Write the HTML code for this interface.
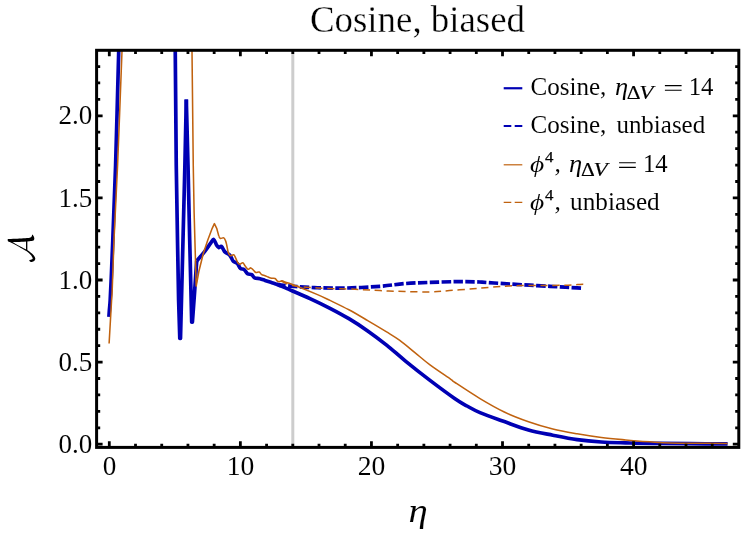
<!DOCTYPE html><html><head><meta charset="utf-8"><style>html,body{margin:0;padding:0;background:#fff}svg{display:block;filter:blur(0.35px)}text{font-family:"Liberation Serif",serif;fill:#000;stroke:#fff;stroke-width:0.06px}</style></head><body>
<svg width="742" height="540" viewBox="0 0 742 540">
<rect width="742" height="540" fill="#fff"/>
<defs><clipPath id="c"><rect x="96.6" y="50.3" width="642.2" height="397.1"/></clipPath></defs>
<line x1="292.80" y1="50.3" x2="292.80" y2="447.4" stroke="#cdcdcd" stroke-width="3"/>
<g clip-path="url(#c)" fill="none" stroke-linejoin="round">
<path d="M108.90,316.90 C108.98,315.75 109.18,312.82 109.40,310.00 C109.62,307.18 109.88,305.50 110.20,300.00 C110.52,294.50 110.87,287.00 111.30,277.00 C111.73,267.00 112.08,258.67 112.80,240.00 C113.52,221.33 114.61,196.67 115.60,165.00 C116.59,133.33 118.13,72.50 118.75,50.00 C119.37,27.50 119.21,33.33 119.30,30.00" stroke="#0000b4" stroke-width="3.7"/>
<path d="M175.20,30.00 L175.25,51.00 L176.25,165.00 L177.50,240.00 L178.60,300.00 L179.80,338.50 L180.50,338.50 L183.00,240.00 L184.90,165.00 L186.30,99.50" stroke="#0000b4" stroke-width="3.7" stroke-linejoin="round"/>
<path d="M186.30,99.50 L188.00,165.00 L189.70,240.00 L191.70,322.20 L192.40,322.20 L194.60,292.00 L196.70,261.00" stroke="#0000b4" stroke-width="3.7" stroke-linejoin="round"/>
<path d="M196.70,261.00 C198.05,259.38 202.47,254.28 204.80,251.30 C207.13,248.32 209.22,245.08 210.70,243.10 C212.18,241.12 212.70,239.03 213.70,239.40 C214.70,239.77 215.83,243.93 216.70,245.30 C217.57,246.67 218.12,247.42 218.90,247.60 C219.68,247.78 220.53,245.87 221.40,246.40 C222.27,246.93 223.50,249.85 224.10,250.80 C224.70,251.75 224.15,251.47 225.00,252.10 C225.85,252.73 228.16,253.70 229.20,254.60 C230.24,255.50 230.57,256.39 231.25,257.50 C231.93,258.61 232.26,260.21 233.30,261.25 C234.34,262.29 236.32,262.57 237.50,263.75 C238.68,264.93 239.28,267.32 240.40,268.30 C241.52,269.28 243.02,268.69 244.20,269.60 C245.38,270.51 246.25,272.92 247.50,273.75 C248.75,274.58 250.52,273.91 251.70,274.60 C252.88,275.29 253.22,277.21 254.60,277.90 C255.98,278.59 258.27,278.33 260.00,278.75 C261.73,279.17 263.33,279.84 265.00,280.40 C266.67,280.96 268.33,281.54 270.00,282.10 C271.67,282.66 273.33,283.15 275.00,283.75 C276.67,284.35 278.17,284.97 280.00,285.70 C281.83,286.43 283.92,287.22 286.00,288.10 C288.08,288.98 288.50,289.25 292.50,291.00 C296.50,292.75 303.75,295.72 310.00,298.60 C316.25,301.48 323.52,304.95 330.00,308.30 C336.48,311.65 342.62,314.93 348.90,318.70 C355.18,322.47 361.42,326.50 367.70,330.90 C373.98,335.30 380.30,340.07 386.60,345.10 C392.90,350.13 398.27,355.22 405.50,361.10 C412.73,366.98 421.75,374.12 430.00,380.40 C438.25,386.67 448.83,394.48 455.00,398.75 C461.17,403.02 462.83,403.69 467.00,406.00 C471.17,408.31 473.78,410.00 480.00,412.60 C486.22,415.20 496.22,418.70 504.30,421.60 C512.38,424.50 520.42,427.73 528.50,430.00 C536.58,432.27 544.70,433.60 552.80,435.20 C560.90,436.80 569.00,438.47 577.10,439.60 C585.20,440.73 593.32,441.45 601.40,442.00 C609.48,442.55 620.17,442.72 625.60,442.90 C631.03,443.07 628.33,442.97 634.00,443.05 C639.67,443.13 650.27,443.29 659.60,443.40 C668.93,443.51 678.67,443.62 690.00,443.70 C701.33,443.77 721.33,443.83 727.60,443.85" stroke="#0000b4" stroke-width="3.7"/>
<path d="M276.40,284.20 C277.00,284.32 277.32,284.56 280.00,284.90 C282.68,285.24 286.25,285.77 292.50,286.25 C298.75,286.73 308.33,287.46 317.50,287.75 C326.67,288.04 337.08,288.24 347.50,288.00 C357.92,287.76 370.42,287.03 380.00,286.30 C389.58,285.57 396.67,284.25 405.00,283.60 C413.33,282.95 421.67,282.72 430.00,282.40 C438.33,282.08 447.50,281.80 455.00,281.70 C462.50,281.60 470.50,281.72 475.00,281.80 C479.50,281.88 478.83,282.00 482.00,282.20 C485.17,282.40 489.33,282.70 494.00,283.00 C498.67,283.30 504.00,283.63 510.00,284.00 C516.00,284.37 523.33,284.82 530.00,285.20 C536.67,285.58 544.17,285.97 550.00,286.30 C555.83,286.63 560.50,286.93 565.00,287.20 C569.50,287.47 574.13,287.73 577.00,287.90 C579.87,288.07 581.33,288.15 582.20,288.20" stroke="#0000b4" stroke-width="3.7" stroke-dasharray="9.4 2.43"/>
<path d="M109.10,343.50 C109.52,336.25 111.08,308.92 111.60,300.00 C112.12,291.08 111.80,300.00 112.20,290.00 C112.60,280.00 113.10,260.83 114.00,240.00 C114.90,219.17 116.27,196.50 117.60,165.00 C118.93,133.50 121.13,73.50 122.00,51.00 C122.87,28.50 122.67,33.50 122.80,30.00" stroke="#c0620f" stroke-width="1.55"/>
<path d="M191.80,30.00 L192.00,51.00 L193.25,165.00 L194.10,212.00 L196.20,286.10 L198.90,271.30 L203.30,253.50 L207.80,240.10 L212.20,228.30 L214.40,223.60 L216.70,228.30 L218.90,236.40" stroke="#c0620f" stroke-width="1.55"/>
<path d="M218.90,236.40 C219.15,236.73 219.58,238.15 220.40,238.40 C221.22,238.65 222.93,237.48 223.80,237.90 C224.67,238.32 225.12,239.72 225.60,240.90 C226.08,242.08 226.25,243.07 226.70,245.00 C227.15,246.93 227.68,250.70 228.30,252.50 C228.92,254.30 229.49,255.42 230.40,255.80 C231.31,256.18 232.85,254.38 233.75,254.80 C234.65,255.22 235.11,256.95 235.80,258.30 C236.49,259.65 237.20,261.92 237.90,262.90 C238.60,263.88 239.17,264.23 240.00,264.20 C240.83,264.17 242.07,262.43 242.90,262.70 C243.73,262.97 244.17,264.72 245.00,265.80 C245.83,266.88 246.93,268.85 247.90,269.20 C248.87,269.55 249.90,267.77 250.80,267.90 C251.70,268.03 252.47,269.23 253.30,270.00 C254.13,270.77 254.82,272.15 255.80,272.50 C256.78,272.85 258.22,271.75 259.20,272.10 C260.18,272.45 260.73,274.00 261.70,274.60 C262.67,275.20 263.90,275.28 265.00,275.70 C266.10,276.12 267.18,276.68 268.30,277.10 C269.42,277.52 270.58,277.97 271.70,278.20 C272.82,278.43 274.10,278.07 275.00,278.50 C275.90,278.93 276.40,280.27 277.10,280.80 C277.80,281.33 278.37,281.70 279.20,281.70 C280.03,281.70 281.13,280.73 282.10,280.80 C283.07,280.87 283.27,281.48 285.00,282.10 C286.73,282.72 287.08,282.42 292.50,284.50 C297.92,286.58 311.25,291.95 317.50,294.60 C323.75,297.25 324.77,297.87 330.00,300.40 C335.23,302.93 342.62,306.43 348.90,309.80 C355.18,313.17 361.42,316.92 367.70,320.60 C373.98,324.28 381.25,328.60 386.60,331.90 C391.95,335.20 395.08,336.95 399.80,340.40 C404.52,343.85 409.87,348.52 414.90,352.60 C419.93,356.68 424.02,360.45 430.00,364.90 C435.98,369.35 446.63,376.37 450.80,379.30 C454.97,382.23 450.13,379.28 455.00,382.50 C459.87,385.72 471.78,393.68 480.00,398.60 C488.22,403.52 496.22,408.15 504.30,412.00 C512.38,415.85 520.42,418.87 528.50,421.70 C536.58,424.53 544.70,426.98 552.80,429.00 C560.90,431.02 569.00,432.38 577.10,433.80 C585.20,435.22 593.32,436.48 601.40,437.50 C609.48,438.52 617.52,439.18 625.60,439.90 C633.68,440.62 642.58,441.28 649.90,441.80 C657.22,442.32 661.15,442.75 669.50,443.00 C677.85,443.25 690.32,443.23 700.00,443.30 C709.68,443.37 723.00,443.38 727.60,443.40" stroke="#c0620f" stroke-width="1.55"/>
<path d="M280.90,281.00 C282.83,281.75 286.40,284.33 292.50,285.50 C298.60,286.67 307.08,287.38 317.50,288.00 C327.92,288.62 344.58,288.82 355.00,289.25 C365.42,289.68 371.67,290.23 380.00,290.60 C388.33,290.98 396.67,291.28 405.00,291.50 C413.33,291.72 422.58,292.05 430.00,291.90 C437.42,291.75 442.33,291.12 449.50,290.60 C456.67,290.08 467.08,289.27 473.00,288.80 C478.92,288.33 481.08,288.13 485.00,287.80 C488.92,287.47 493.17,287.07 496.50,286.80 C499.83,286.53 501.08,286.40 505.00,286.20 C508.92,286.00 513.67,285.72 520.00,285.60 C526.33,285.48 535.00,285.57 543.00,285.50 C551.00,285.43 561.83,285.38 568.00,285.20 C574.17,285.02 577.43,284.58 580.00,284.40 C582.57,284.22 582.83,284.15 583.40,284.10" stroke="#c0620f" stroke-width="1.5" stroke-dasharray="7.2 4.66"/>
</g>
<path d="M109.30,447.35v-6.00 M109.30,50.30v6.00 M135.51,447.35v-3.60 M135.51,50.30v3.60 M161.73,447.35v-3.60 M161.73,50.30v3.60 M187.94,447.35v-3.60 M187.94,50.30v3.60 M214.16,447.35v-3.60 M214.16,50.30v3.60 M240.37,447.35v-6.00 M240.37,50.30v6.00 M266.58,447.35v-3.60 M266.58,50.30v3.60 M292.80,447.35v-3.60 M292.80,50.30v3.60 M319.01,447.35v-3.60 M319.01,50.30v3.60 M345.23,447.35v-3.60 M345.23,50.30v3.60 M371.44,447.35v-6.00 M371.44,50.30v6.00 M397.65,447.35v-3.60 M397.65,50.30v3.60 M423.87,447.35v-3.60 M423.87,50.30v3.60 M450.08,447.35v-3.60 M450.08,50.30v3.60 M476.30,447.35v-3.60 M476.30,50.30v3.60 M502.51,447.35v-6.00 M502.51,50.30v6.00 M528.72,447.35v-3.60 M528.72,50.30v3.60 M554.94,447.35v-3.60 M554.94,50.30v3.60 M581.15,447.35v-3.60 M581.15,50.30v3.60 M607.37,447.35v-3.60 M607.37,50.30v3.60 M633.58,447.35v-6.00 M633.58,50.30v6.00 M659.79,447.35v-3.60 M659.79,50.30v3.60 M686.01,447.35v-3.60 M686.01,50.30v3.60 M712.22,447.35v-3.60 M712.22,50.30v3.60 M96.60,444.20h6.00 M738.80,444.20h-6.00 M96.60,427.78h3.60 M738.80,427.78h-3.60 M96.60,411.36h3.60 M738.80,411.36h-3.60 M96.60,394.94h3.60 M738.80,394.94h-3.60 M96.60,378.52h3.60 M738.80,378.52h-3.60 M96.60,362.10h6.00 M738.80,362.10h-6.00 M96.60,345.68h3.60 M738.80,345.68h-3.60 M96.60,329.26h3.60 M738.80,329.26h-3.60 M96.60,312.84h3.60 M738.80,312.84h-3.60 M96.60,296.42h3.60 M738.80,296.42h-3.60 M96.60,280.00h6.00 M738.80,280.00h-6.00 M96.60,263.58h3.60 M738.80,263.58h-3.60 M96.60,247.16h3.60 M738.80,247.16h-3.60 M96.60,230.74h3.60 M738.80,230.74h-3.60 M96.60,214.32h3.60 M738.80,214.32h-3.60 M96.60,197.90h6.00 M738.80,197.90h-6.00 M96.60,181.48h3.60 M738.80,181.48h-3.60 M96.60,165.06h3.60 M738.80,165.06h-3.60 M96.60,148.64h3.60 M738.80,148.64h-3.60 M96.60,132.22h3.60 M738.80,132.22h-3.60 M96.60,115.80h6.00 M738.80,115.80h-6.00 M96.60,99.38h3.60 M738.80,99.38h-3.60 M96.60,82.96h3.60 M738.80,82.96h-3.60 M96.60,66.54h3.60 M738.80,66.54h-3.60" stroke="#000" stroke-width="2.8" fill="none"/>
<rect x="96.6" y="50.3" width="642.2" height="397.1" fill="none" stroke="#000" stroke-width="3"/>
<text x="417.5" y="31.8" font-size="37" text-anchor="middle" textLength="215" lengthAdjust="spacingAndGlyphs" style="stroke-width:0.3px">Cosine, biased</text>
<text x="92.2" y="452.8" font-size="27" text-anchor="end" textLength="33.8" lengthAdjust="spacingAndGlyphs">0.0</text>
<text x="92.2" y="370.7" font-size="27" text-anchor="end" textLength="33.8" lengthAdjust="spacingAndGlyphs">0.5</text>
<text x="92.2" y="288.6" font-size="27" text-anchor="end" textLength="33.8" lengthAdjust="spacingAndGlyphs">1.0</text>
<text x="92.2" y="206.5" font-size="27" text-anchor="end" textLength="33.8" lengthAdjust="spacingAndGlyphs">1.5</text>
<text x="92.2" y="124.4" font-size="27" text-anchor="end" textLength="33.8" lengthAdjust="spacingAndGlyphs">2.0</text>
<text x="109.5" y="474.5" font-size="27.2" text-anchor="middle">0</text>
<text x="240.5" y="474.5" font-size="27.2" text-anchor="middle" textLength="27.6" lengthAdjust="spacingAndGlyphs">10</text>
<text x="371.5" y="474.5" font-size="27.2" text-anchor="middle" textLength="27.6" lengthAdjust="spacingAndGlyphs">20</text>
<text x="502.6" y="474.5" font-size="27.2" text-anchor="middle" textLength="27.6" lengthAdjust="spacingAndGlyphs">30</text>
<text x="633.7" y="474.5" font-size="27.2" text-anchor="middle" textLength="27.6" lengthAdjust="spacingAndGlyphs">40</text>
<text x="418.0" y="521.9" font-size="33.2" font-style="italic" text-anchor="middle" textLength="19.2" lengthAdjust="spacingAndGlyphs">η</text>
<g transform="translate(0,220) scale(0.10185)" fill="#000" stroke="none">
<path d="M76.00,187.00 C88.33,186.67 124.33,186.17 150.00,185.00 C175.67,183.83 206.33,181.83 230.00,180.00 C253.67,178.17 279.33,176.00 292.00,174.00 C304.67,172.00 302.50,170.83 306.00,168.00 C309.50,165.17 311.17,161.17 313.00,157.00 C314.83,152.83 314.33,142.83 317.00,143.00 C319.67,143.17 325.67,151.67 329.00,158.00 C332.33,164.33 337.17,173.83 337.00,181.00 C336.83,188.17 335.83,196.50 328.00,201.00 C320.17,205.50 306.33,206.00 290.00,208.00 C273.67,210.00 253.33,211.67 230.00,213.00 C206.67,214.33 171.67,215.67 150.00,216.00 C128.33,216.33 112.33,216.67 100.00,215.00 C87.67,213.33 80.00,207.50 76.00,206.00Z"/>
<path d="M80.00,195.00 C91.67,201.17 130.00,221.33 150.00,232.00 C170.00,242.67 181.33,249.00 200.00,259.00 C218.67,269.00 245.33,282.17 262.00,292.00 C278.67,301.83 288.67,309.17 300.00,318.00 C311.33,326.83 322.33,335.50 330.00,345.00 C337.67,354.50 344.33,366.17 346.00,375.00 C347.67,383.83 344.33,392.00 340.00,398.00 C335.67,404.00 327.00,409.17 320.00,411.00 C313.00,412.83 303.50,411.17 298.00,409.00 C292.50,406.83 286.67,401.00 287.00,398.00 C287.33,395.00 295.17,393.00 300.00,391.00 C304.83,389.00 312.67,389.17 316.00,386.00 C319.33,382.83 322.67,379.33 320.00,372.00 C317.33,364.67 309.67,352.83 300.00,342.00 C290.33,331.17 278.67,318.67 262.00,307.00 C245.33,295.33 218.67,282.50 200.00,272.00 C181.33,261.50 170.33,254.83 150.00,244.00 C129.67,233.17 90.00,213.17 78.00,207.00Z"/>
<path d="M255.5,205 L268.5,205 L268.5,304 L255.5,298Z"/>
</g>
<line x1="503.7" y1="88.25" x2="522.3" y2="88.25" stroke="#0000b4" stroke-width="2.2"/>
<line x1="503.7" y1="126.00" x2="522.3" y2="126.00" stroke="#0000b4" stroke-width="2.2" stroke-dasharray="7.6 3.4"/>
<line x1="503.7" y1="164.80" x2="522.3" y2="164.80" stroke="#c0620f" stroke-width="1.2"/>
<line x1="503.7" y1="202.30" x2="522.3" y2="202.30" stroke="#c0620f" stroke-width="1.2" stroke-dasharray="7.6 3.4"/>
<text x="530.4" y="94.9" font-size="25.5" textLength="76.0" lengthAdjust="spacingAndGlyphs">Cosine,</text>
<text x="614.9" y="94.9" font-size="25.5" font-style="italic" textLength="13.2" lengthAdjust="spacingAndGlyphs">η</text><text x="626.8" y="99.2" font-size="18.5" textLength="13.8" lengthAdjust="spacingAndGlyphs" style="stroke:#000;stroke-width:0.15px">Δ</text><text x="639.3" y="99.2" font-size="17.8" font-style="italic" textLength="14.2" lengthAdjust="spacingAndGlyphs" style="stroke:#000;stroke-width:0.15px">V</text><path d="M664.9,85.6h16.7M664.9,90.2h16.7" stroke="#000" stroke-width="1.15" fill="none"/><text x="688.7" y="94.9" font-size="25.2" textLength="24.8" lengthAdjust="spacingAndGlyphs">14</text>
<text x="530.4" y="132.9" font-size="25.5" textLength="76.0" lengthAdjust="spacingAndGlyphs">Cosine,</text>
<text x="616.4" y="132.9" font-size="25.5" textLength="88.8" lengthAdjust="spacingAndGlyphs">unbiased</text>
<text x="530.0" y="172.0" font-size="23.2" font-style="italic" textLength="14.2" lengthAdjust="spacingAndGlyphs">ϕ</text>
<text x="545.0" y="162.2" font-size="14.5" textLength="8.4" lengthAdjust="spacingAndGlyphs" style="stroke:#000;stroke-width:0.25px">4</text>
<text x="554.6" y="172.0" font-size="25.5">,</text>
<text x="530.0" y="209.8" font-size="23.2" font-style="italic" textLength="14.2" lengthAdjust="spacingAndGlyphs">ϕ</text>
<text x="545.0" y="200.0" font-size="14.5" textLength="8.4" lengthAdjust="spacingAndGlyphs" style="stroke:#000;stroke-width:0.25px">4</text>
<text x="554.6" y="209.8" font-size="25.5">,</text>
<text x="569.1" y="172.0" font-size="25.5" font-style="italic" textLength="13.2" lengthAdjust="spacingAndGlyphs">η</text><text x="581.0" y="176.3" font-size="18.5" textLength="13.8" lengthAdjust="spacingAndGlyphs" style="stroke:#000;stroke-width:0.15px">Δ</text><text x="593.5" y="176.3" font-size="17.8" font-style="italic" textLength="14.2" lengthAdjust="spacingAndGlyphs" style="stroke:#000;stroke-width:0.15px">V</text><path d="M619.1,162.7h16.7M619.1,167.3h16.7" stroke="#000" stroke-width="1.15" fill="none"/><text x="642.9" y="172.0" font-size="25.2" textLength="24.8" lengthAdjust="spacingAndGlyphs">14</text>
<text x="570.1" y="209.8" font-size="25.5" textLength="89.6" lengthAdjust="spacingAndGlyphs">unbiased</text>
</svg></body></html>
